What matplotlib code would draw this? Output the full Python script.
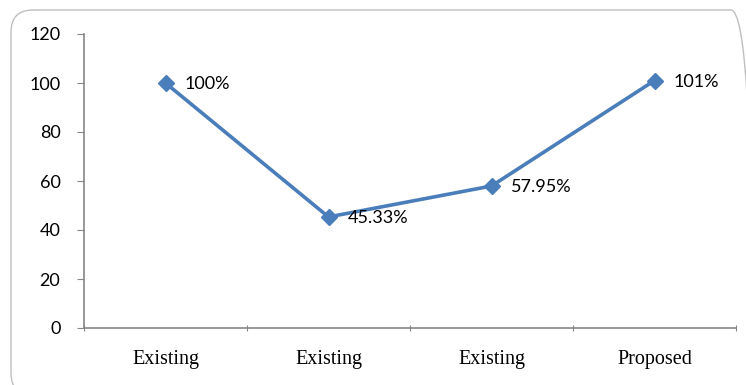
import matplotlib.pyplot as plt
from matplotlib.patches import FancyBboxPatch
from matplotlib.transforms import IdentityTransform

categories = ['Existing', 'Existing', 'Existing', 'Proposed']
values = [100, 45.33, 57.95, 101]
point_labels = ['100%', '45.33%', '57.95%', '101%']
y_ticks = [0, 20, 40, 60, 80, 100, 120]

line_color = '#4A7EBB'
axis_color = '#868686'

fig = plt.figure(figsize=(7.46, 3.85), dpi=100)

# rounded chart border (pixel coords), runs off the right and bottom edges
border = FancyBboxPatch((11, -10), 742, 385, boxstyle='round,pad=0,rounding_size=22',
                        transform=IdentityTransform(), facecolor='none',
                        edgecolor='#BFBFBF', linewidth=1.0, zorder=-1)
fig.patches.append(border)

ax = fig.add_axes([84 / 746, 57 / 385, 652 / 746, 294 / 385])
ax.set_facecolor('none')

x = [i + 0.5 for i in range(len(values))]
ax.plot(x, values, color=line_color, linewidth=2.6, marker='D',
        markersize=8, markerfacecolor=line_color, markeredgecolor=line_color,
        clip_on=False)

for xi, yi, lab in zip(x, values, point_labels):
    ax.annotate(lab, (xi, yi), xytext=(14, -1), textcoords='offset points',
                ha='left', va='center', fontsize=13, family='Lato')

ax.set_xlim(0, len(values))
ax.set_ylim(0, 120)
ax.set_yticks(y_ticks)
ax.set_yticklabels([str(t) for t in y_ticks], fontsize=13, family='Lato')

# ticks at the category boundaries, labels at the centres
ax.set_xticks(range(len(values) + 1))
ax.set_xticklabels([])
ax.set_xticks(x, minor=True)
ax.set_xticklabels(categories, minor=True, fontsize=14.5, family='Liberation Serif')
ax.tick_params(axis='x', which='major', length=5, color=axis_color, direction='inout')
ax.tick_params(axis='x', which='minor', length=0, pad=16)
ax.tick_params(axis='y', length=5, color=axis_color, direction='out', pad=12)

for side in ['top', 'right']:
    ax.spines[side].set_visible(False)
for side in ['left', 'bottom']:
    ax.spines[side].set_color(axis_color)
    ax.spines[side].set_linewidth(1.2)

fig.savefig('out.png', dpi=100)
